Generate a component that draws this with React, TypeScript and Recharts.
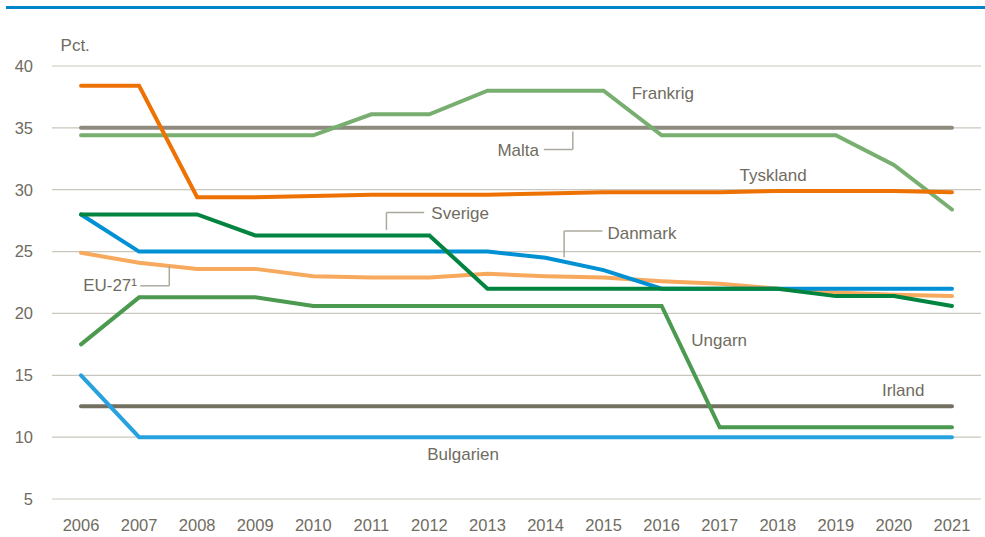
import React from "react";
import {
  LineChart,
  Line,
  XAxis,
  YAxis,
  CartesianGrid,
  ReferenceLine,
  ReferenceDot,
} from "recharts";

const years = [2006, 2007, 2008, 2009, 2010, 2011, 2012, 2013, 2014, 2015, 2016, 2017, 2018, 2019, 2020, 2021];
const yTicks = [5, 10, 15, 20, 25, 30, 35, 40];

const tyskland = [38.4, 38.4, 29.4, 29.4, 29.5, 29.6, 29.6, 29.6, 29.7, 29.8, 29.8, 29.8, 29.9, 29.9, 29.9, 29.8];
const malta = [35, 35, 35, 35, 35, 35, 35, 35, 35, 35, 35, 35, 35, 35, 35, 35];
const frankrig = [34.4, 34.4, 34.4, 34.4, 34.4, 36.1, 36.1, 38.0, 38.0, 38.0, 34.4, 34.4, 34.4, 34.4, 32.0, 28.4];
const sverige = [28, 28, 28, 26.3, 26.3, 26.3, 26.3, 22, 22, 22, 22, 22, 22, 21.4, 21.4, 20.6];
const danmark = [28, 25, 25, 25, 25, 25, 25, 25, 24.5, 23.5, 22, 22, 22, 22, 22, 22];
const eu27 = [24.9, 24.1, 23.6, 23.6, 23.0, 22.9, 22.9, 23.2, 23.0, 22.9, 22.6, 22.4, 22.0, 21.7, 21.5, 21.4];
const ungarn = [17.5, 21.3, 21.3, 21.3, 20.6, 20.6, 20.6, 20.6, 20.6, 20.6, 20.6, 10.8, 10.8, 10.8, 10.8, 10.8];
const irland = [12.5, 12.5, 12.5, 12.5, 12.5, 12.5, 12.5, 12.5, 12.5, 12.5, 12.5, 12.5, 12.5, 12.5, 12.5, 12.5];
const bulgarien = [15, 10, 10, 10, 10, 10, 10, 10, 10, 10, 10, 10, 10, 10, 10, 10];

const data = years.map((year, i) => ({
  year,
  tyskland: tyskland[i],
  malta: malta[i],
  frankrig: frankrig[i],
  sverige: sverige[i],
  danmark: danmark[i],
  eu27: eu27[i],
  ungarn: ungarn[i],
  irland: irland[i],
  bulgarien: bulgarien[i],
}));

const series = [
  { key: "malta", color: "#8E8A7E" },
  { key: "irland", color: "#747061" },
  { key: "frankrig", color: "#78AE6F" },
  { key: "tyskland", color: "#EE7203" },
  { key: "eu27", color: "#F7A95E" },
  { key: "danmark", color: "#0090D4" },
  { key: "sverige", color: "#00843F" },
  { key: "ungarn", color: "#4B9A50" },
  { key: "bulgarien", color: "#27A2DF" },
];

const labels = [
  { text: "Frankrig", x: 2016.02, y: 37.85 },
  { text: "Malta", x: 2013.53, y: 33.25 },
  { text: "Tyskland", x: 2017.92, y: 31.2 },
  { text: "Sverige", x: 2012.53, y: 28.15 },
  { text: "Danmark", x: 2015.66, y: 26.5 },
  { text: "EU-27\u00b9", x: 2006.5, y: 22.3 },
  { text: "Ungarn", x: 2016.99, y: 17.85 },
  { text: "Irland", x: 2020.16, y: 13.85 },
  { text: "Bulgarien", x: 2012.58, y: 8.6 },
  { text: "Pct.", x: 2005.9, y: 41.7 },
];

const leaders = [
  [{ x: 2013.97, y: 33.25 }, { x: 2014.47, y: 33.25 }, { x: 2014.47, y: 34.7 }],
  [{ x: 2011.26, y: 26.75 }, { x: 2011.26, y: 28.15 }, { x: 2011.91, y: 28.15 }],
  [{ x: 2014.32, y: 24.55 }, { x: 2014.32, y: 26.67 }, { x: 2014.98, y: 26.67 }],
  [{ x: 2007.02, y: 22.23 }, { x: 2007.52, y: 22.23 }, { x: 2007.52, y: 23.85 }],
];

const textColor = "#706C5F";
const leaderColor = "#ABA99D";

export default function App() {
  return (
    <div style={{ position: "absolute", left: 0, top: 0, width: 985, height: 537, background: "#fff" }}>
      <div
        style={{
          position: "absolute",
          left: 6,
          top: 6,
          width: 979,
          height: 2.5,
          background: "#0086C8",
        }}
      />
      <LineChart
        width={985}
        height={537}
        data={data}
        margin={{ top: 66, right: 4, bottom: 8, left: 0 }}
        style={{ fontFamily: "'Liberation Sans', Arial, sans-serif" }}
      >
        <CartesianGrid vertical={false} stroke="#C9C7BD" strokeWidth={1.2} />
        <XAxis
          dataKey="year"
          type="number"
          domain={[2005.5, 2021.5]}
          allowDataOverflow={true}
          ticks={years}
          interval={0}
          axisLine={false}
          tickLine={false}
          tickSize={0}
          tickMargin={20}
          height={30}
          tick={{ fill: textColor, fontSize: 16.5 }}
        />
        <YAxis
          type="number"
          domain={[5, 40]}
          allowDataOverflow={true}
          ticks={yTicks}
          interval={0}
          axisLine={false}
          tickLine={false}
          tickSize={0}
          tickMargin={19}
          width={52}
          tick={{ fill: textColor, fontSize: 16.5 }}
        />
        {series.map((s) => (
          <Line
            key={s.key}
            dataKey={s.key}
            type="linear"
            stroke={s.color}
            strokeWidth={4}
            strokeLinecap="round"
            dot={false}
            activeDot={false}
            isAnimationActive={false}
          />
        ))}
        {leaders.map((pts, i) => (
          <React.Fragment key={"l" + i}>
            <ReferenceLine
              segment={[pts[0], pts[1]]}
              stroke={leaderColor}
              strokeWidth={1.5}
              ifOverflow="visible"
            />
            <ReferenceLine
              segment={[pts[1], pts[2]]}
              stroke={leaderColor}
              strokeWidth={1.5}
              ifOverflow="visible"
            />
          </React.Fragment>
        ))}
        {labels.map((l) => (
          <ReferenceDot
            key={l.text}
            x={l.x}
            y={l.y}
            r={0}
            fill="none"
            stroke="none"
            ifOverflow="visible"
            label={{ value: l.text, position: "center", fill: textColor, fontSize: 17 }}
          />
        ))}
      </LineChart>
    </div>
  );
}
